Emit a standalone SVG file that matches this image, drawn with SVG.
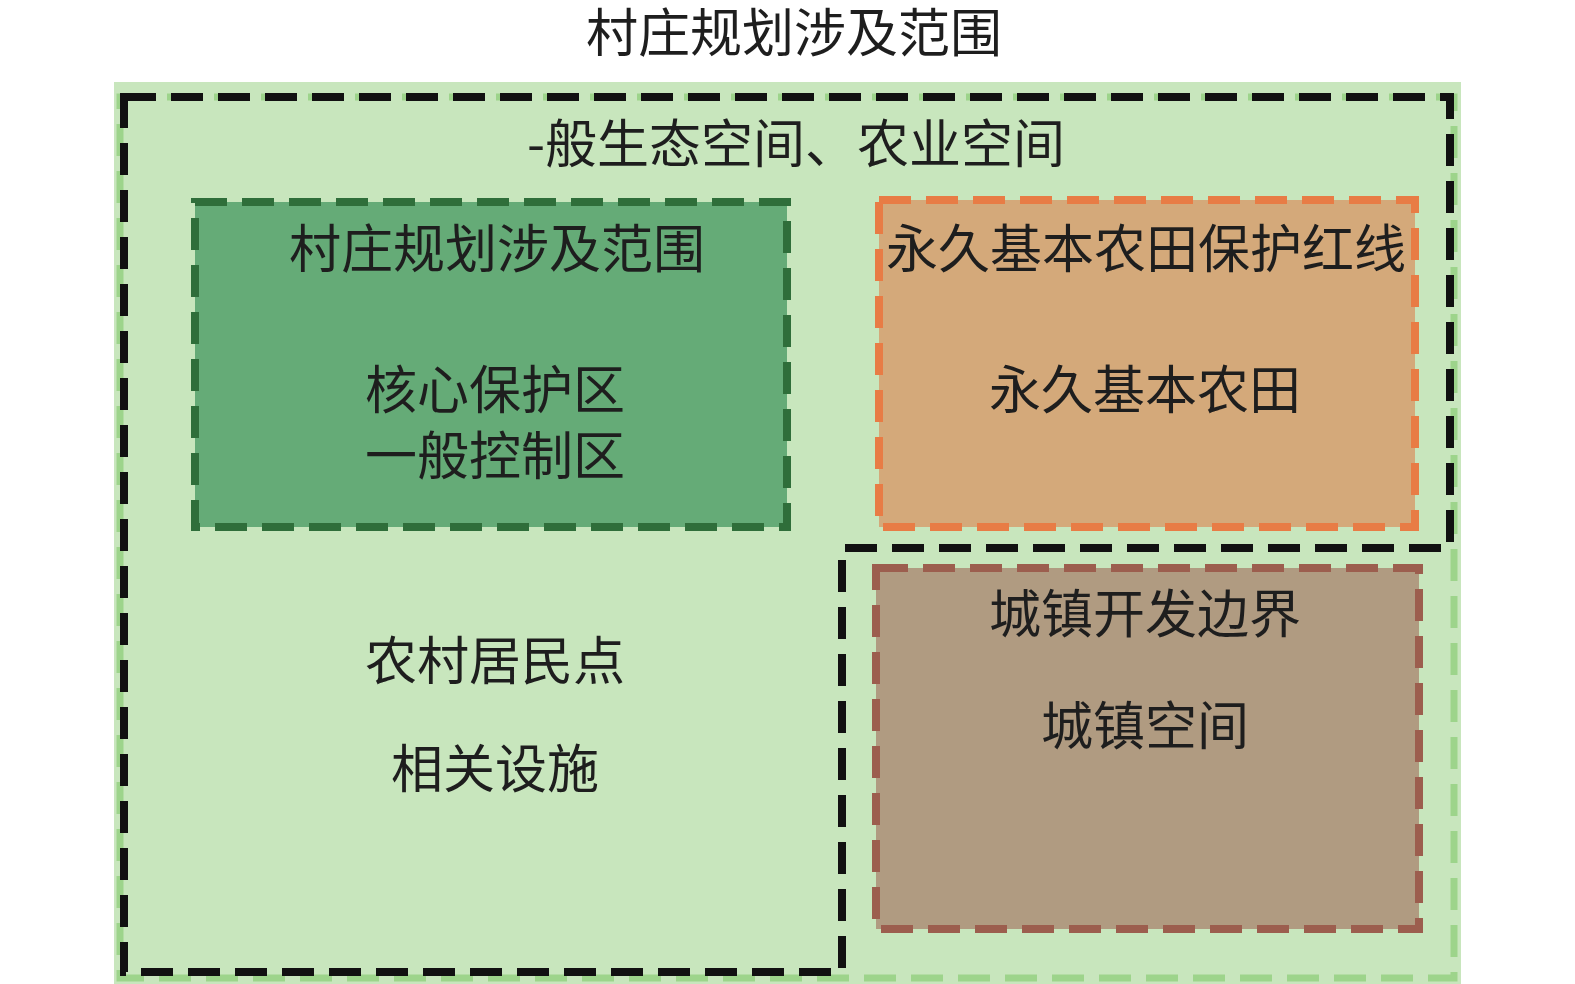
<svg xmlns="http://www.w3.org/2000/svg" width="1575" height="984" viewBox="0 0 1575 984">
<style>
text{font-family:"Noto Sans CJK SC","Noto Sans CJK JP",sans-serif;font-size:52px;fill:#1e1e1e;text-anchor:middle}
.dash{fill:none;stroke-width:8;stroke-dasharray:32 15}
</style>
<rect width="1575" height="984" fill="#ffffff"/>
<text x="794" y="52">村庄规划涉及范围</text>
<g id="outer">
<rect x="114" y="82" width="1347" height="902" fill="#c8e6bd"/>
<rect x="120" y="97" width="1334" height="881" fill="none" stroke="#9dd48b" stroke-width="7" stroke-dasharray="32 15"/>
</g>
<g id="ecology">
<path d="M124 97 H1450 V548 H842 V972 H124 Z" class="dash" stroke="#111111"/>
<text x="796" y="163">-般生态空间、农业空间</text>
</g>
<g id="village">
<rect x="195" y="202" width="592" height="325" stroke="#2f6e3a" class="dash" style="fill:#65ab77"/>
<text x="497" y="268">村庄规划涉及范围</text>
<text x="495" y="409">核心保护区<tspan x="495" dy="66">一般控制区</tspan></text>
</g>
<g id="farmland">
<rect x="879" y="200" width="536" height="327" stroke="#e87c45" class="dash" style="fill:#d4a97a"/>
<text x="1146" y="268">永久基本农田保护红线</text>
<text x="1145" y="409">永久基本农田</text>
</g>
<g id="urban">
<rect x="876" y="568" width="543" height="361" stroke="#9c5e4e" class="dash" style="fill:#b09b81"/>
<text x="1145" y="633">城镇开发边界</text>
<text x="1145" y="745">城镇空间</text>
</g>
<g id="rural">
<text x="495" y="680">农村居民点</text>
<text x="495" y="788">相关设施</text>
</g>
<g id="connectors"/>
</svg>
